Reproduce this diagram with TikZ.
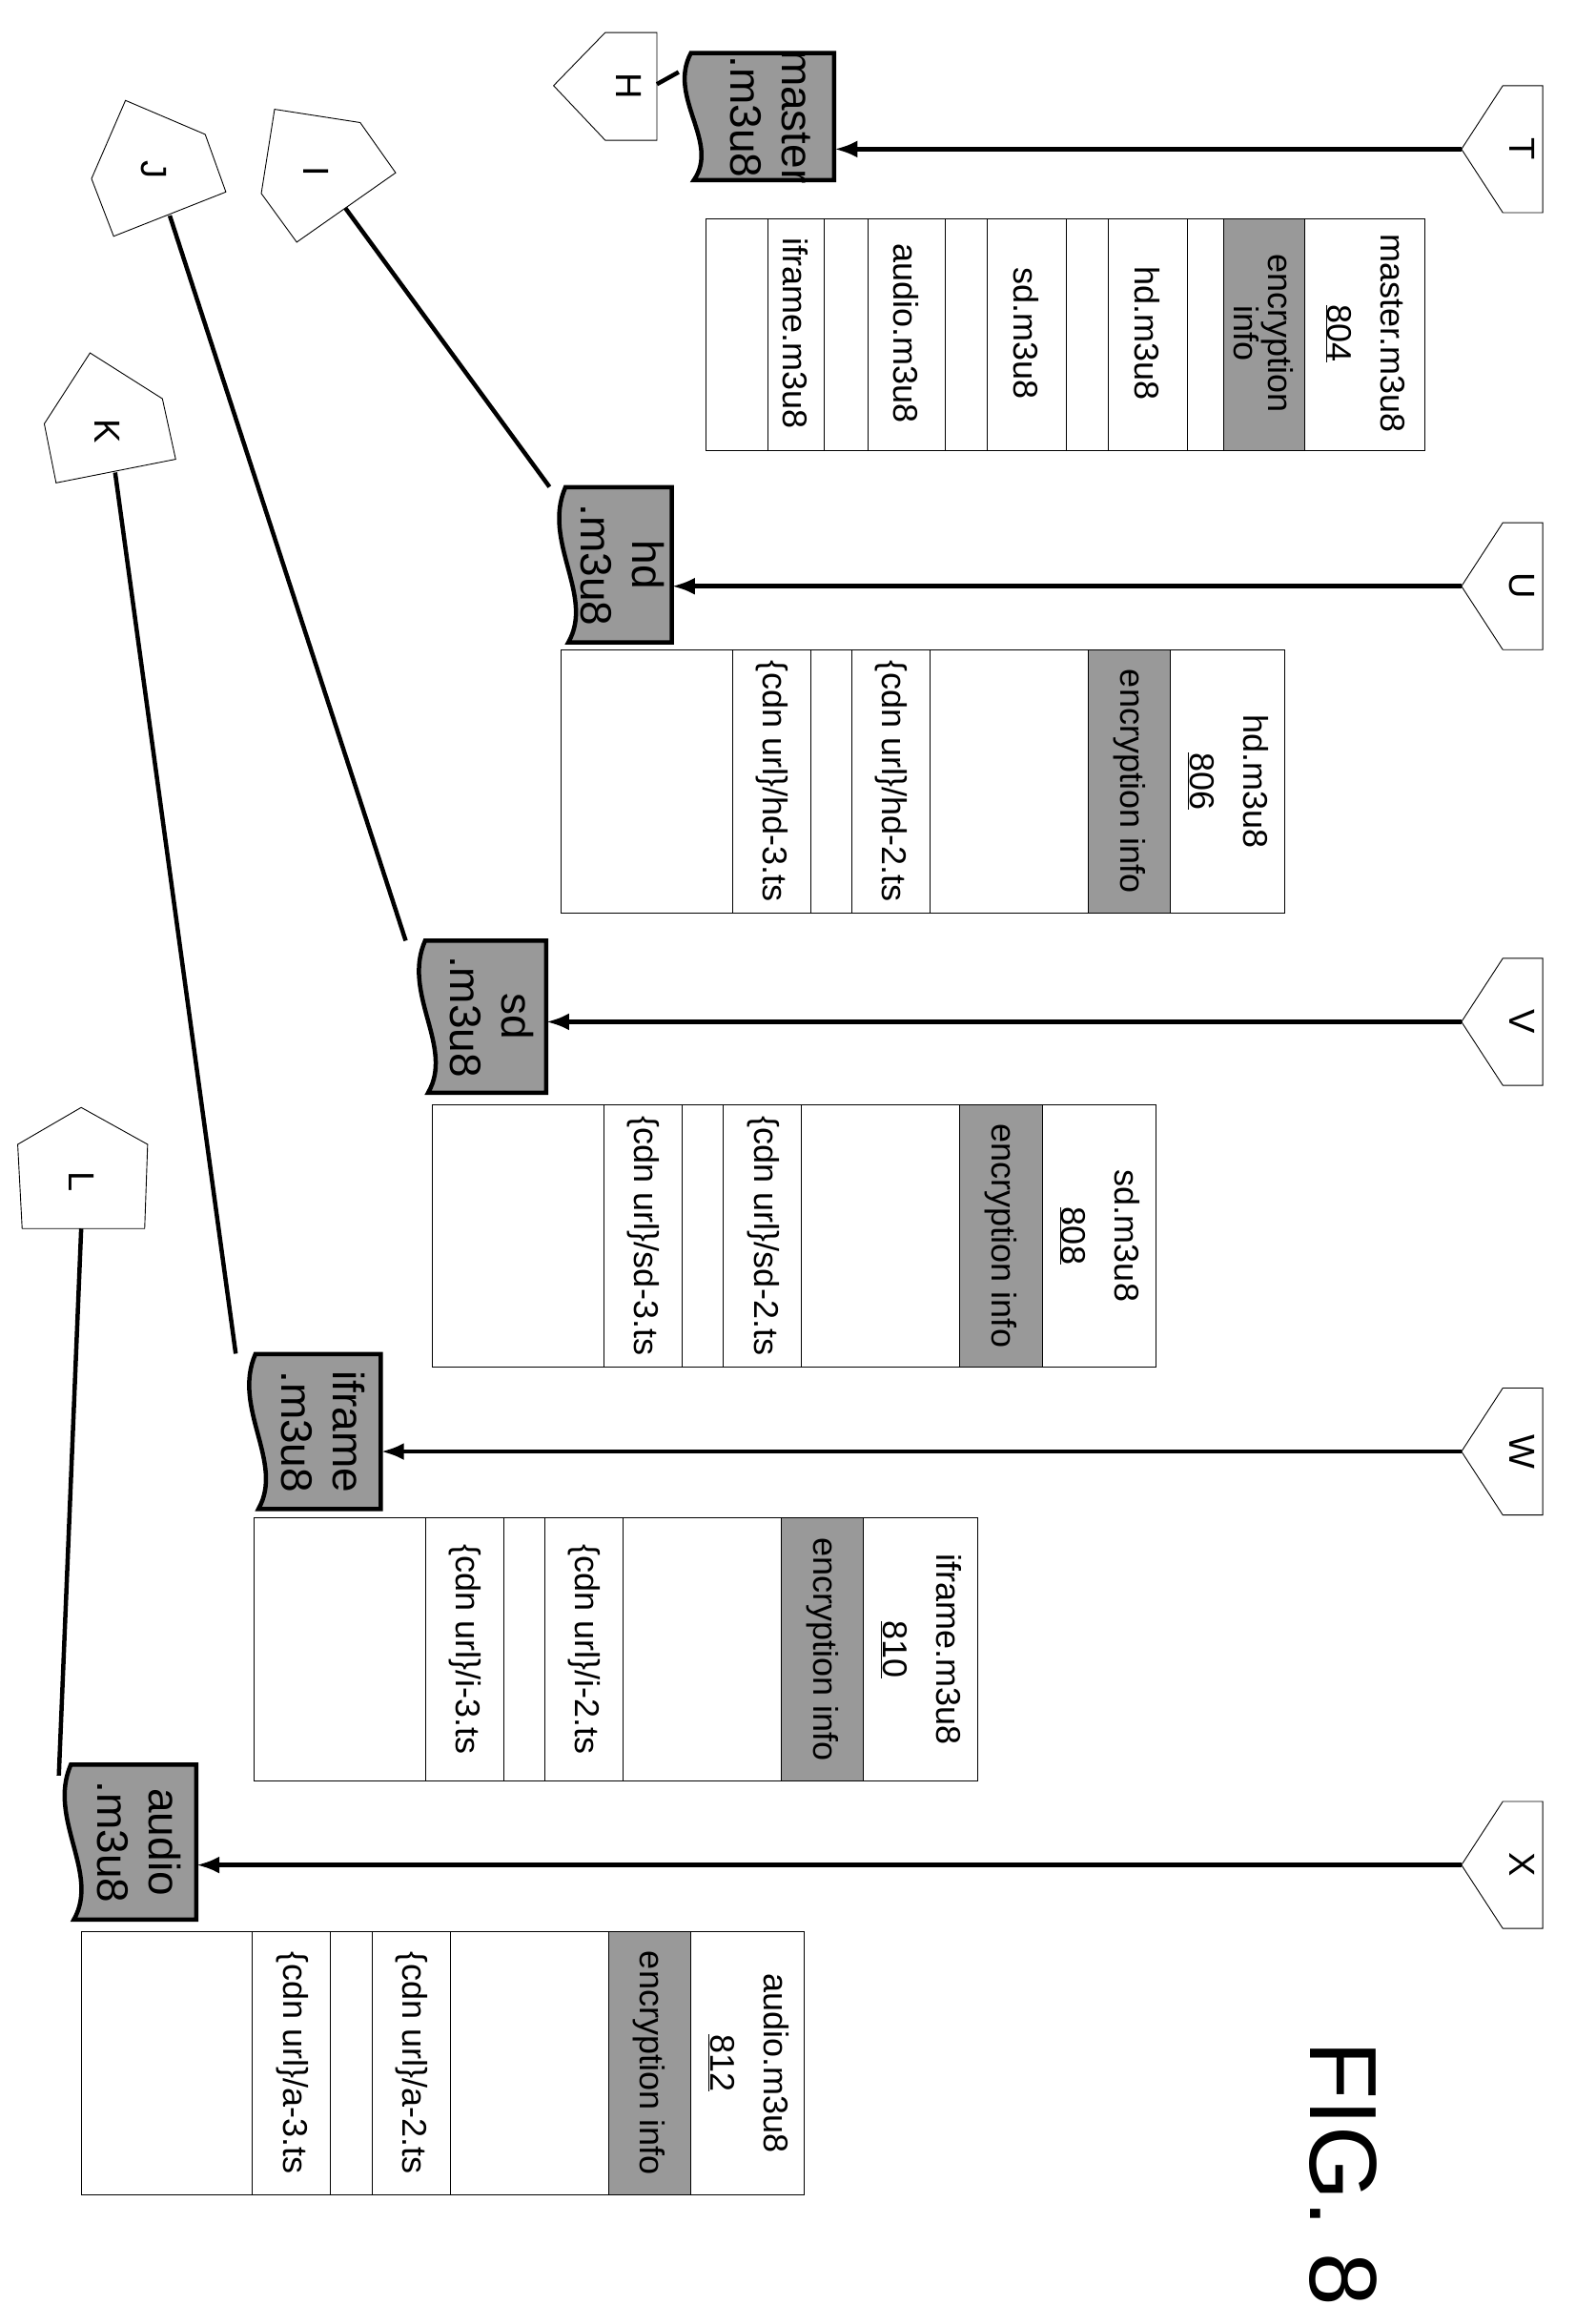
\documentclass[tikz,border=0pt]{standalone}
\usepackage{fontspec}
\setmainfont{Liberation Sans}
\usetikzlibrary{arrows.meta}
\definecolor{docgray}{gray}{0.6}
\definecolor{encgray}{gray}{0.6}

% one playlist card: right edge, top edge, name, number, segment prefix
\newcommand\playlist[5]{%
  \draw[cell] ({#1-490},#2) rectangle (#1,{#2+178});
  \draw[enc] ({#1-133},#2) rectangle ({#1-77},{#2+178});
  \draw[cell] ({#1-293},#2) rectangle ({#1-240},{#2+178});
  \draw[cell] ({#1-374},#2) rectangle ({#1-321},{#2+178});
  \node[ltext] (#3-title) at ({#1-38},{#2+89}) {#3.m3u8\\[16pt]\underline{#4}};
  \node[ltext] (#3-enc) at ({#1-105},{#2+89}) {encryption info};
  \node[ltext] (#3-seg2) at ({#1-266},{#2+89}) {\{cdn url\}/#5-2.ts};
  \node[ltext] (#3-seg3) at ({#1-347},{#2+89}) {\{cdn url\}/#5-3.ts};
}
% wavy file symbol: x0, y0, x1, y1
\newcommand\docbody[4]{%
  \filldraw[doc] ({#1+8},#2) .. controls ({#1-8},{#2+0.35*(#4-#2)}) and ({#1+28},{#2+0.7*(#4-#2)}) .. ({#1+10},#4) -- (#3,#4) -- (#3,#2) -- cycle;
}

\begin{document}
\begin{tikzpicture}
        [
            x=1.548pt,y=-1.548pt,
            cell/.style={draw=black,line width=0.8pt},
            enc/.style={cell,fill=encgray},
            ltext/.style={rotate=-90,font=\fontsize{36}{40}\selectfont,align=center,inner sep=0pt},
            doc/.style={draw=black,line width=4.5pt,fill=docgray},
            dlabel/.style={rotate=-90,inner sep=0pt,align=center,font=\fontsize{46}{54}\selectfont},
            offpage/.style={draw=black,line width=0.9pt,fill=white},
            otext/.style={rotate=-90,font=\fontsize{38}{40}\selectfont,inner sep=0pt},
            flow/.style={line width=4.5pt,-{Latex[length=24pt,width=18pt]}},
            link/.style={line width=4.5pt},
        ]
    \useasboundingbox (0,0) rectangle (1081,1561);

    % file symbols
    \docbody{460}{36}{565}{122}
    \node[dlabel,minimum width=133pt,minimum height=163pt] (master) at (512.5,79) {};
    \node[dlabel] (master-name) at (522,79) {master\\.m3u8};
    \docbody{375}{330}{455}{435}
    \node[dlabel,minimum width=163pt,minimum height=124pt] (hd) at (415,382.5) {};
    \node[dlabel] (hd-name) at (422,382.5) {hd\\.m3u8};
    \docbody{280}{637}{370}{740}
    \node[dlabel,minimum width=159pt,minimum height=139pt] (sd) at (325,688.5) {};
    \node[dlabel] (sd-name) at (333,688.5) {sd\\.m3u8};
    \docbody{165}{917}{258}{1022}
    \node[dlabel,minimum width=163pt,minimum height=144pt] (iframe) at (211.5,969.5) {};
    \node[dlabel] (iframe-name) at (219,969.5) {iframe\\.m3u8};
    \docbody{40}{1195}{133}{1300}
    \node[dlabel,minimum width=163pt,minimum height=144pt] (audio) at (86.5,1247.5) {};
    \node[dlabel] (audio-name) at (94,1247.5) {audio\\.m3u8};

    % master playlist card
    \draw[cell] (478,148) rectangle (965,305);
    \draw[enc] (829,148) rectangle (884,305);
    \draw[cell] (751,148) rectangle (804,305);
    \draw[cell] (669,148) rectangle (722,305);
    \draw[cell] (588,148) rectangle (640,305);
    \draw[cell] (520,148) rectangle (558,305);
    \node[ltext] (master-title) at (925,226) {master.m3u8\\[16pt]\underline{804}};
    \node[ltext,font=\fontsize{36}{36}\selectfont] (master-enc) at (856,226) {encryption\\info};
    \node[ltext] (master-hd) at (777,226) {hd.m3u8};
    \node[ltext] (master-sd) at (695,226) {sd.m3u8};
    \node[ltext] (master-audio) at (614,226) {audio.m3u8};
    \node[ltext] (master-iframe) at (539,226) {iframe.m3u8};

    % media playlist cards
    \playlist{870}{440}{hd}{806}{hd}
    \playlist{783}{748}{sd}{808}{sd}
    \playlist{662}{1028}{iframe}{810}{i}
    \playlist{545}{1308}{audio}{812}{a}

    % incoming off-page connectors
    \foreach \lbl/\yy/\doc in {T/101/master,U/397/hd,V/692/sd,W/983/iframe,X/1263/audio}{
        \draw[offpage] (990,\yy) -- (1018,\yy-43) -- (1045,\yy-43) -- (1045,\yy+43) -- (1018,\yy+43) -- cycle;
        \node[otext] (\lbl) at (1031,\yy) {\lbl};
        \coordinate (\lbl-tip) at (990,\yy);
        \draw[flow] (\lbl-tip) -- (\doc.north |- \lbl-tip);
    }

    % outgoing off-page connectors
    \draw[offpage] (375,58) -- (410,22) -- (445,22) -- (445,95) -- (410,95) -- cycle;
    \node[otext] (H) at (426,58) {H};
    \coordinate (H-end) at (445,57);
    \draw[offpage] (186,74) -- (244,83) -- (268,117) -- (201,164) -- (177,131) -- cycle;
    \node[otext] (I) at (214,116) {I};
    \coordinate (I-end) at (234,141);
    \draw[offpage] (85,68) -- (139,91) -- (153,130) -- (77,160) -- (62,121) -- cycle;
    \node[otext] (J) at (104,115) {J};
    \coordinate (J-end) at (115,146);
    \draw[offpage] (61,239) -- (110,270) -- (119,311) -- (38,327) -- (30,287) -- cycle;
    \node[otext] (K) at (73,292) {K};
    \coordinate (K-end) at (78,320);
    \draw[offpage] (55,750) -- (100,775) -- (98,832) -- (15,832) -- (12,775) -- cycle;
    \node[otext] (L) at (55,800) {L};
    \coordinate (L-end) at (55,832);

    \draw[link] (H-end) -- ([yshift=-20pt]master.south west);
    \draw[link] (I-end) -- ([xshift=-4pt]hd.south west);
    \draw[link] (J-end) -- ([xshift=-8pt]sd.south west);
    \draw[link] (K-end) -- ([xshift=-8pt]iframe.south west);
    \draw[link] (L-end) -- ([yshift=-12pt]audio.south west);

    \node[rotate=-90,font=\fontsize{100}{100}\selectfont,inner sep=0pt] (fig) at (910,1472) {FIG. 8};
\end{tikzpicture}
\end{document}
